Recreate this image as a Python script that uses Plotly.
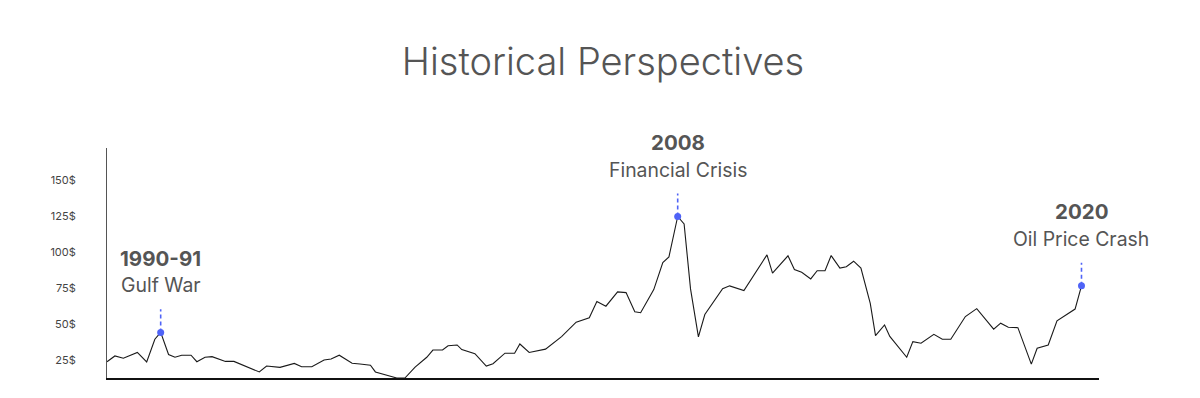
import plotly.graph_objects as go

# Oil price history (USD per barrel)
years = [
    1989.00, 1989.27, 1989.56, 1990.04, 1990.36, 1990.64, 1990.84, 1991.11, 1991.33, 1991.56,
    1991.88, 1992.08, 1992.36, 1992.60, 1993.06, 1993.35, 1994.22, 1994.47, 1994.93, 1995.42,
    1995.67, 1996.02, 1996.44, 1996.68, 1996.96, 1997.40, 1997.67, 1998.03, 1998.20, 1998.93,
    1999.21, 1999.56, 1999.96, 2000.17, 2000.50, 2000.69, 2001.00, 2001.16, 2001.61, 2002.00,
    2002.23, 2002.64, 2002.97, 2003.15, 2003.47, 2004.03, 2004.58, 2005.08, 2005.53, 2005.79,
    2006.10, 2006.50, 2006.79, 2007.09, 2007.29, 2007.74, 2008.05, 2008.26, 2008.56, 2008.78,
    2009.00, 2009.27, 2009.49, 2010.10, 2010.34, 2010.83, 2011.62, 2011.81, 2012.34, 2012.56,
    2012.81, 2013.12, 2013.34, 2013.61, 2013.82, 2014.12, 2014.34, 2014.59, 2014.84, 2015.16,
    2015.34, 2015.65, 2015.83, 2016.06, 2016.41, 2016.62, 2016.90, 2017.34, 2017.63, 2017.92,
    2018.42, 2018.81, 2019.39, 2019.63, 2019.89, 2020.22, 2020.68, 2020.88, 2021.26, 2021.56,
    2022.18, 2022.40,
]
prices = [
    23.8, 27.8, 26.2, 30.2, 23.6, 39.4, 44.1, 28.8, 26.9, 28.3,
    28.3, 23.8, 26.9, 27.3, 24.0, 24.0, 16.7, 20.8, 19.9, 22.6,
    20.3, 20.3, 25.0, 25.7, 28.3, 22.7, 22.2, 21.4, 16.7, 12.5,
    12.5, 20.1, 26.9, 31.9, 31.9, 34.9, 35.4, 32.2, 29.4, 20.8,
    22.4, 29.7, 29.7, 36.1, 30.2, 32.5, 41.2, 51.2, 54.3, 65.6,
    62.3, 72.2, 71.7, 58.5, 57.8, 73.8, 92.6, 96.5, 124.5, 119.3,
    74.3, 41.0, 56.5, 74.4, 76.4, 73.1, 97.9, 85.2, 97.2, 87.7,
    85.8, 81.2, 86.9, 86.9, 97.4, 88.7, 89.7, 93.5, 88.7, 64.2,
    41.9, 49.3, 41.3, 35.6, 26.9, 37.7, 36.6, 42.8, 39.4, 39.4,
    55.1, 60.6, 46.4, 50.5, 47.7, 47.4, 22.1, 33.1, 35.4, 52.1,
    60.3, 76.4,
]

# Highlighted events
event_years = [1990.84, 2008.56, 2022.40]
event_prices = [44.1, 124.5, 76.4]
event_titles = ["1990-91", "2008", "2020"]
event_subtitles = ["Gulf War", "Financial Crisis", "Oil Price Crash"]

tick_values = [25, 50, 75, 100, 125, 150]
tick_labels = ["25$", "50$", "75$", "100$", "125$", "150$"]

FONT = "Inter"
GREY = "#555555"
BLUE = "#4f63f7"
STEM = 16  # length of dashed stem above each event marker, in $

fig = go.Figure()

fig.add_trace(go.Scatter(
    x=years, y=prices, mode="lines",
    line=dict(color="#1a1a1a", width=1.1),
    hoverinfo="skip", showlegend=False,
))

for ex, ey in zip(event_years, event_prices):
    fig.add_trace(go.Scatter(
        x=[ex, ex], y=[ey, ey + STEM], mode="lines",
        line=dict(color=BLUE, width=1.6, dash="4px,3px"),
        hoverinfo="skip", showlegend=False,
    ))

fig.add_trace(go.Scatter(
    x=event_years, y=event_prices, mode="markers",
    marker=dict(color=BLUE, size=7),
    hoverinfo="skip", showlegend=False,
))

annotations = []
for ex, ey, t, s in zip(event_years, event_prices, event_titles, event_subtitles):
    annotations.append(dict(
        x=ex, y=ey, xref="x", yref="y", text=f"<b>{t}</b>", showarrow=False,
        xanchor="center", yanchor="middle", yshift=74,
        font=dict(family=FONT, size=20.5, color=GREY),
    ))
    annotations.append(dict(
        x=ex, y=ey, xref="x", yref="y", text=s, showarrow=False,
        xanchor="center", yanchor="middle", yshift=47,
        font=dict(family=FONT, size=19.4, color=GREY),
    ))

fig.update_layout(
    width=1200, height=398,
    margin=dict(l=107, r=101, t=148, b=20),
    paper_bgcolor="white", plot_bgcolor="white",
    title=dict(
        text="Historical Perspectives",
        x=0.5, xanchor="center", xref="paper",
        y=1 - 62 / 398, yanchor="middle", yref="container",
        font=dict(family=FONT, size=38, color=GREY, weight=300),
    ),
    xaxis=dict(
        range=[1989, 2023], showgrid=False, zeroline=False,
        showticklabels=False, ticks="",
        showline=True, linecolor="#111111", linewidth=1.5,
        fixedrange=True,
    ),
    yaxis=dict(
        range=[12.5, 172], showgrid=False, zeroline=False,
        tickvals=tick_values, ticktext=tick_labels, ticks="",
        tickfont=dict(family=FONT, size=11, color="#444444"),
        ticklabelstandoff=28,
        showline=True, linecolor="#555555", linewidth=1,
        fixedrange=True,
    ),
    annotations=annotations,
    font=dict(family=FONT, color=GREY),
)

fig.write_html("out.html")
